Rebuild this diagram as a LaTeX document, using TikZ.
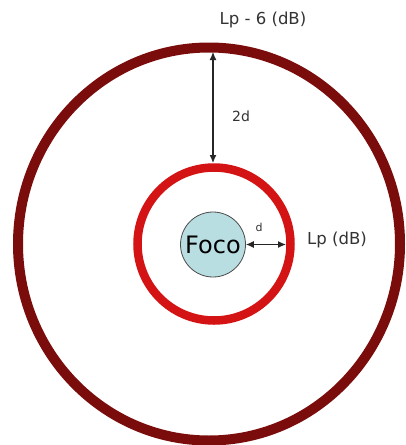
\documentclass[tikz,border=0pt]{standalone}
\usepackage{fontspec}
\setmainfont{DejaVu Sans}
\usetikzlibrary{shapes.geometric,arrows.meta}
\definecolor{outerred}{HTML}{7A0C0C}
\definecolor{innerred}{HTML}{D41414}
\definecolor{focofill}{HTML}{B8DEE2}
\tikzset{
  dim/.style={draw=black!85, line width=1.1pt, {Latex[length=8pt,width=7pt]}-{Latex[length=8pt,width=7pt]}},
  lbl/.style={text=black!80, inner sep=0pt}
}
\begin{document}
\begin{tikzpicture}[x=1pt,y=-1pt]
\useasboundingbox (0,0) rectangle (406,445);
\fill[white] (0,0) rectangle (406,445);
% outer ring
\node (outer) [ellipse, draw=outerred, line width=10pt, minimum width=382pt, minimum height=393pt, inner sep=0pt, outer sep=0pt] at (209,244) {};
% inner ring
\node (ring) [circle, draw=innerred, line width=8.5pt, minimum size=153pt, inner sep=0pt, outer sep=0pt] at (214,244) {};
% foco
\node (foco) [circle, draw=black!70, line width=0.8pt, fill=focofill, minimum size=65pt, inner sep=0pt] at (213,244.5) {\fontsize{24}{26}\selectfont Foco};
% arrow ends
\coordinate (outin) at (213,52);
\coordinate (ringtop) at (213,163);
\coordinate (ringin) at (286,244.5);
\draw[dim] (outin) -- (ringtop);
\draw[dim] (foco.east) -- (ringin);
% labels
\node (l2d) [lbl, font=\fontsize{14}{16}\selectfont] at (241,116) {2d};
\node (ld) [lbl, font=\fontsize{11}{12}\selectfont] at (259,227) {d};
\node (lp) [lbl, font=\fontsize{16.5}{18}\selectfont] at (337,240) {Lp (dB)};
\node (lp6) [lbl, font=\fontsize{16.5}{18}\selectfont] at (263,20) {Lp - 6 (dB)};
\end{tikzpicture}
\end{document}
